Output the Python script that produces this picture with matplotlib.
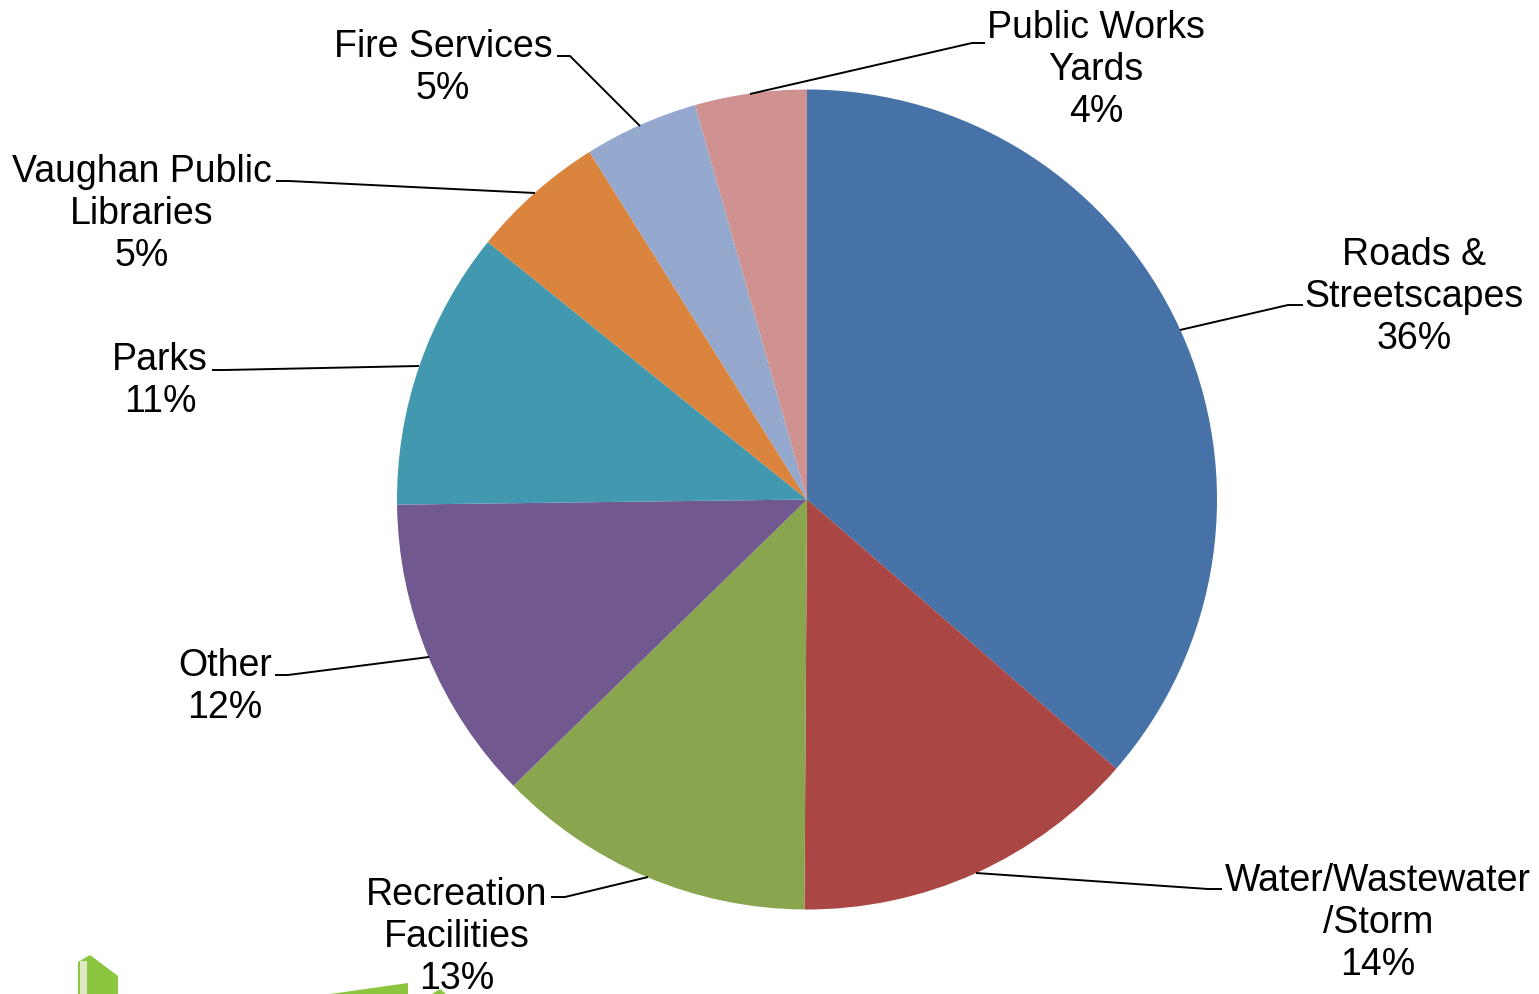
import matplotlib.pyplot as plt
from matplotlib.patches import Polygon, Rectangle

plt.rcParams['font.family'] = ['Liberation Sans', 'DejaVu Sans']

categories = ['Roads &\nStreetscapes', 'Water/Wastewater\n/Storm', 'Recreation\nFacilities', 'Other',
              'Parks', 'Vaughan Public\nLibraries', 'Fire Services', 'Public Works\nYards']
shares = [36.4, 13.7, 12.6, 12.1, 11.0, 5.3, 4.5, 4.4]
colors = ['#4772A7', '#AA4644', '#89A54E', '#71588F', '#4198AF', '#DB843D', '#95A9CF', '#D09291']

W, H = 1539, 995

# label anchors and leader lines, in pixels from the top left
label_pos = [(1414, 297), (1378, 923), (457, 937), (225, 687), (160, 381), (142, 214), (443, 68), (1096, 70)]
leaders = [
    [(1180, 331), (1288, 306), (1303, 306)],
    [(976, 874), (1208, 890), (1222, 890)],
    [(648, 878), (565, 898), (551, 898)],
    [(429, 658), (288, 676), (275, 676)],
    [(419, 367), (225, 371), (212, 371)],
    [(535, 194), (289, 182), (276, 182)],
    [(640, 127), (570, 57), (557, 57)],
    [(750, 95), (972, 44), (985, 44)],
]


def flip(pts):
    return [(x, H - y) for x, y in pts]


fig = plt.figure(figsize=(W / 100, H / 100), dpi=100)
ax = fig.add_axes([0, 0, 1, 1])

ax.pie(shares, colors=colors, center=(807, H - 500.5), radius=410, startangle=90, counterclock=False,
       wedgeprops={'linewidth': 0})
ax.set_xlim(0, W)
ax.set_ylim(0, H)
ax.set_aspect('equal')
ax.axis('off')

for pts in leaders:
    xs, ys = zip(*flip(pts))
    ax.plot(xs, ys, color='black', linewidth=1.4, solid_capstyle='butt', zorder=3)

for name, value, (x, y) in zip(categories, shares, label_pos):
    ax.text(x, H - y, f'{name}\n{int(value + 0.5)}%', ha='center', va='center', multialignment='center',
            fontsize=27, linespacing=1.22, color='black', zorder=4)

# bits of the logo along the bottom edge
green = '#8CC63F'
ax.add_patch(Polygon(flip([(78, 995), (78, 963), (90, 956), (118, 977), (118, 995)]), closed=True, color=green, lw=0))
ax.add_patch(Rectangle((80, 0), 7, 33, color='#DCE9C4', lw=0))
ax.add_patch(Polygon(flip([(330, 995), (408, 984), (408, 995)]), closed=True, color=green, lw=0))
ax.add_patch(Polygon(flip([(432, 995), (440, 990), (446, 995)]), closed=True, color=green, lw=0))

fig.savefig('out.png', dpi=100)
